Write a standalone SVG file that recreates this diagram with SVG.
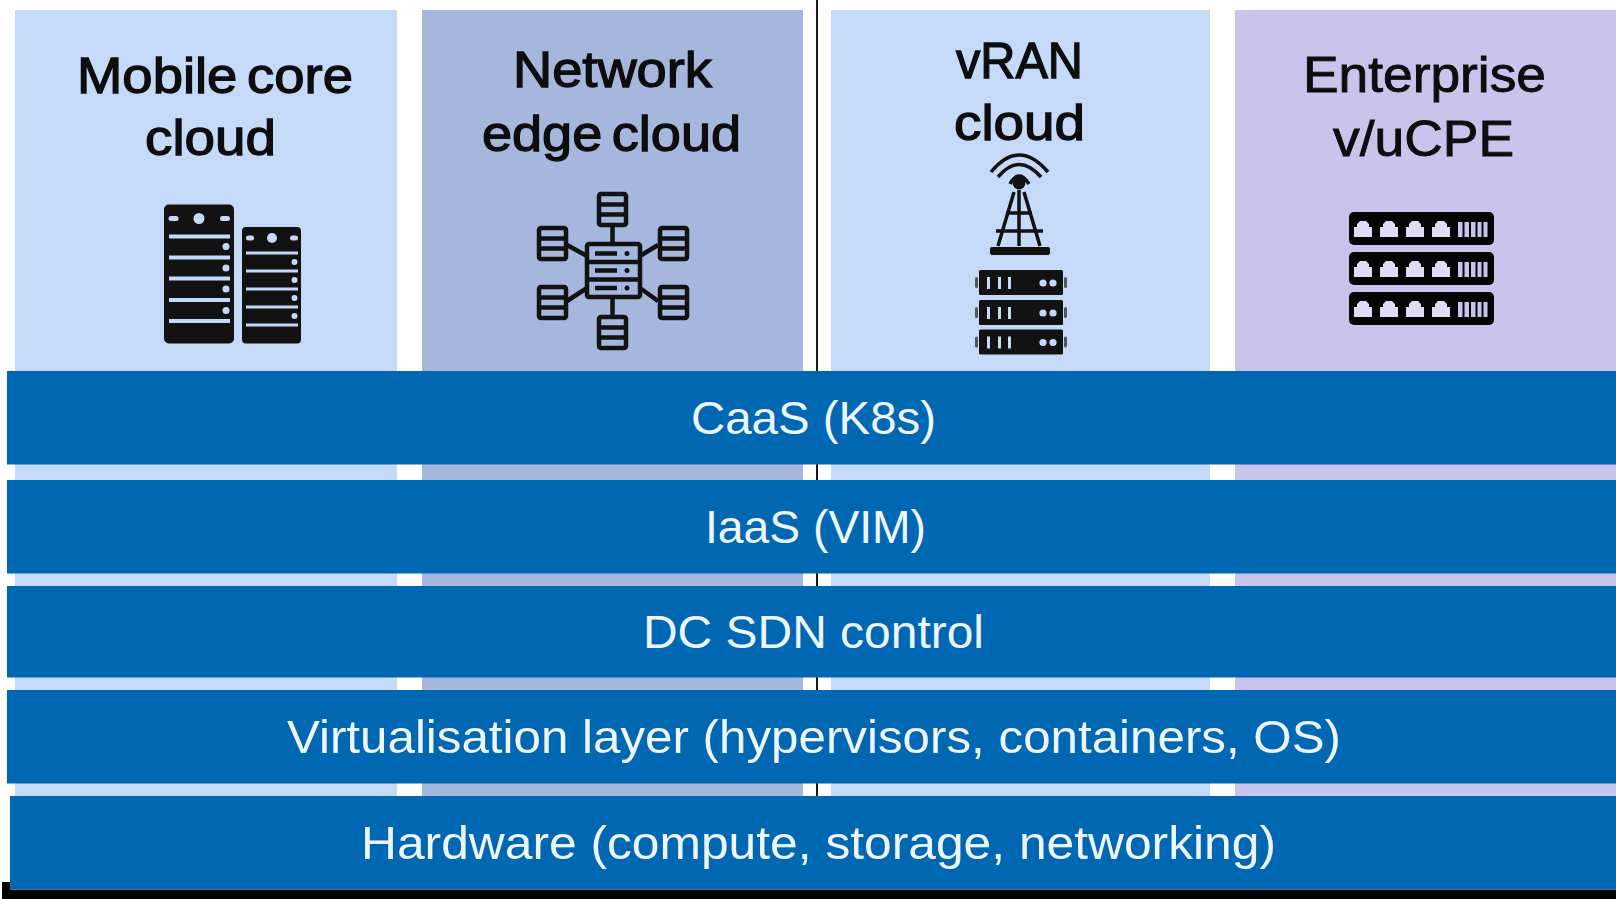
<svg xmlns="http://www.w3.org/2000/svg" width="1616" height="899" viewBox="0 0 1616 899">
<style>
.head{font-family:"Liberation Sans",Arial,sans-serif;font-size:50px;fill:#0d0d0d;stroke:#0d0d0d;stroke-width:1.3;word-spacing:-5px}
.headr{font-family:"Liberation Sans",Arial,sans-serif;font-size:50px;fill:#0d0d0d;stroke:#0d0d0d;stroke-width:.9}
.bar{fill:#0068b3}
.lbl{font-family:"Liberation Sans",Arial,sans-serif;font-size:47px;fill:#eef5fb}
.ic{fill:#121212}
.o{fill:none;stroke:#121212;stroke-width:4.500}
</style>
<defs>
<g id="sat"><rect x="2" y="2" width="27" height="31" rx="2" class="o"/><path d="M2 12.500H29M2 22.500H29" class="o"/></g>
<g id="rackunit">
<rect x="979" y="0" width="84" height="25" rx="1.500" class="ic"/>
<rect x="975" y="7" width="3" height="11" rx="1.500" fill="#555"/><rect x="1064" y="7" width="3" height="11" rx="1.500" fill="#555"/>
<g fill="#c5d9f8"><rect x="987" y="7" width="3" height="12"/><rect x="998" y="7" width="3" height="12"/><rect x="1008" y="7" width="3" height="12"/><circle cx="1043" cy="13" r="3.600"/><circle cx="1053" cy="13" r="3.600"/></g>
</g>
<g id="port"><path d="M-9 25V15H-6V12L-3 9H3L6 12V15H9V25Z" fill="#dcdcf4"/></g>
<g id="cpeunit">
<rect x="1349" y="0" width="145" height="33" rx="5" fill="#050505"/>
<use href="#port" x="1363" y="0"/><use href="#port" x="1389" y="0"/><use href="#port" x="1415" y="0"/><use href="#port" x="1441" y="0"/>
<g fill="#c7c5ec"><rect x="1458" y="10" width="4.500" height="15"/><rect x="1464.500" y="10" width="4.500" height="15"/><rect x="1471" y="10" width="4.500" height="15"/><rect x="1477.500" y="10" width="4" height="15"/><rect x="1483.500" y="10" width="4" height="15"/></g>
</g>
</defs>
<rect width="1616" height="899" fill="#fff"/>
<g id="panel-mobile-core">
<rect x="15" y="10" width="382" height="361" fill="#c5d9f8"/>
<text class="head" x="77" y="93" textLength="276" lengthAdjust="spacingAndGlyphs">Mobile core</text>
<text class="head" x="145" y="155" textLength="131" lengthAdjust="spacingAndGlyphs">cloud</text>
<rect x="164" y="204.500" width="70" height="139" rx="5" class="ic"/>
<g fill="#c5d9f8"><circle cx="199" cy="218.500" r="5.500"/><rect x="168.500" y="216" width="10" height="5" rx="2.500"/><rect x="220" y="216" width="10" height="5" rx="2.500"/>
<rect x="169" y="234.500" width="61" height="4"/><rect x="169" y="255.500" width="61" height="4"/><rect x="169" y="276.500" width="61" height="4"/><rect x="169" y="298" width="61" height="4"/><rect x="169" y="319" width="61" height="4"/>
<circle cx="226" cy="246.500" r="3.500"/><circle cx="226" cy="268" r="3.500"/><circle cx="226" cy="289" r="3.500"/><circle cx="226" cy="310.500" r="3.500"/></g>
<rect x="242" y="227" width="59" height="116.500" rx="4" class="ic"/>
<g fill="#c5d9f8"><circle cx="272" cy="238" r="5"/><rect x="246" y="235.500" width="8" height="5" rx="2.500"/><rect x="290" y="235.500" width="8" height="5" rx="2.500"/>
<rect x="246" y="251.500" width="52" height="3"/><rect x="246" y="269.500" width="52" height="3"/><rect x="246" y="287.500" width="52" height="3"/><rect x="246" y="305.500" width="52" height="3"/><rect x="246" y="323.500" width="52" height="3"/>
<circle cx="294.500" cy="262" r="3"/><circle cx="294.500" cy="280" r="3"/><circle cx="294.500" cy="298" r="3"/><circle cx="294.500" cy="316" r="3"/></g>
</g>
<g id="panel-network-edge">
<rect x="422" y="10" width="381" height="361" fill="#a6b7de"/>
<text class="head" x="513" y="87" textLength="199" lengthAdjust="spacingAndGlyphs">Network</text>
<text class="head" x="482" y="151" textLength="259" lengthAdjust="spacingAndGlyphs">edge cloud</text>
<use href="#sat" x="597" y="192"/><use href="#sat" x="597" y="315"/><use href="#sat" x="537" y="226"/><use href="#sat" x="537" y="285"/><use href="#sat" x="658" y="226"/><use href="#sat" x="658" y="285"/>
<rect x="587" y="244" width="53" height="53" rx="2" class="o"/><path d="M587 262H640M587 279.500H640" class="o"/>
<path d="M612.500 226V244M612.500 297V315M567 245L587 256M567 301L587 288M658 245L640 256M658 301L640 288" class="o"/>
<path d="M595 253.500H617M595 270.500H617M595 288H617" class="o"/>
<circle cx="627" cy="253.500" r="2.500" class="ic"/><circle cx="627" cy="270.500" r="2.500" class="ic"/><circle cx="627" cy="288" r="2.500" class="ic"/>
</g>
<rect id="divider" x="816" y="0" width="2" height="796" fill="#1a1a1a"/>
<g id="panel-vran">
<rect x="831" y="10" width="379" height="361" fill="#c5d9f8"/>
<text class="head" x="956" y="78" textLength="127" lengthAdjust="spacingAndGlyphs">vRAN</text>
<text class="head" x="954" y="140" textLength="131" lengthAdjust="spacingAndGlyphs">cloud</text>
<circle cx="1019" cy="183" r="6.500" class="ic"/>
<g fill="none" stroke="#121212" stroke-width="3.500"><path d="M991 172Q1019 138 1048 172M998 177Q1019 152 1041 177M1010 184Q1019 168 1029 184"/>
<path d="M1019 190V246M1014 192L998 246M1024 192L1040 246M1006 213H1032M996 231H1043"/></g>
<rect x="990" y="247" width="60" height="8" rx="2" class="ic"/>
<use href="#rackunit" x="0" y="270"/><use href="#rackunit" x="0" y="300"/><use href="#rackunit" x="0" y="329.500"/>
</g>
<g id="panel-enterprise">
<rect x="1235" y="10" width="381" height="361" fill="#c7c5ec"/>
<text class="headr" x="1303" y="92" textLength="243" lengthAdjust="spacingAndGlyphs">Enterprise</text>
<text class="headr" x="1333" y="156" textLength="181" lengthAdjust="spacingAndGlyphs">v/uCPE</text>
<use href="#cpeunit" x="0" y="212"/><use href="#cpeunit" x="0" y="252"/><use href="#cpeunit" x="0" y="292"/>
</g>
<g id="panel-extensions">
<rect x="15" y="371" width="382" height="425" fill="#c5d9f8"/>
<rect x="422" y="371" width="381" height="425" fill="#a6b7de"/>
<rect x="831" y="371" width="379" height="425" fill="#c5d9f8"/>
<rect x="1235" y="371" width="381" height="425" fill="#c7c5ec"/>
</g>
<g id="base-line"><path d="M2 882H10V889.500H1616V899H2Z" fill="#000"/></g>
<g id="layer-caas"><rect class="bar" x="7" y="371" width="1609" height="93.500"/><text class="lbl" x="691" y="434" textLength="245" lengthAdjust="spacingAndGlyphs">CaaS (K8s)</text></g>
<g id="layer-iaas"><rect class="bar" x="7" y="480" width="1609" height="93.500"/><text class="lbl" x="705" y="543" textLength="221" lengthAdjust="spacingAndGlyphs">IaaS (VIM)</text></g>
<g id="layer-sdn"><rect class="bar" x="7" y="586" width="1609" height="91.500"/><text class="lbl" x="643" y="648" textLength="341" lengthAdjust="spacingAndGlyphs">DC SDN control</text></g>
<g id="layer-virtualisation"><rect class="bar" x="7" y="690" width="1609" height="93.500"/><text class="lbl" x="287" y="753" textLength="1054" lengthAdjust="spacingAndGlyphs">Virtualisation layer (hypervisors, containers, OS)</text></g>
<g id="layer-hardware"><rect class="bar" x="10" y="796" width="1606" height="93.500"/><text class="lbl" x="361" y="859" textLength="915" lengthAdjust="spacingAndGlyphs">Hardware (compute, storage, networking)</text></g>
</svg>
